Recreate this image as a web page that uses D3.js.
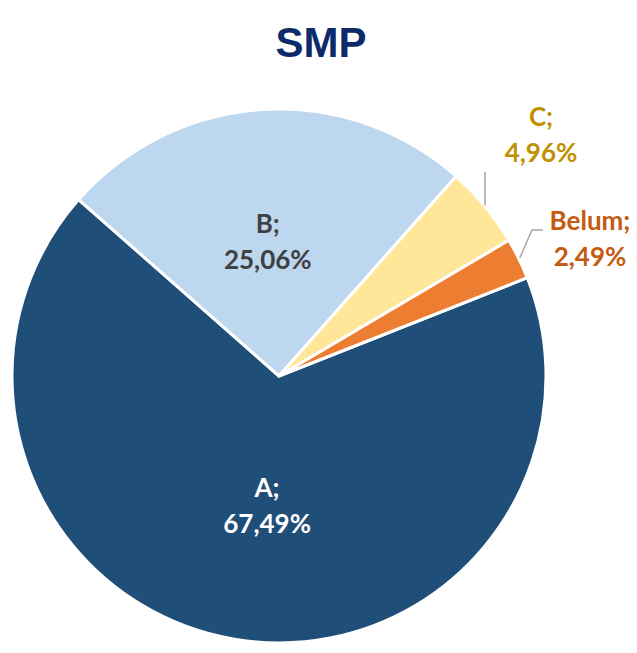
<!DOCTYPE html>
<html>
<head>
<meta charset="utf-8">
<script src="https://cdn.jsdelivr.net/npm/d3@7"></script>
<style>
  html, body { margin: 0; padding: 0; background: #ffffff; }
  svg { display: block; }
</style>
</head>
<body>
<svg id="chart" width="637" height="653"></svg>
<script>
const categories = ["A", "B", "C", "Belum"];
const values = [67.49, 25.06, 4.96, 2.49];
const labelTexts = ["67,49%", "25,06%", "4,96%", "2,49%"];
const colors = ["#1F4E79", "#BDD7EE", "#FFE699", "#ED7D31"];
const labelColors = ["#ffffff", "#404040", "#BF9000", "#C55A11"];
const title = "SMP";

const svg = d3.select("#chart");
const cx = 279, cy = 376, R = 267;

svg.append("text")
  .attr("x", 321).attr("y", 57)
  .attr("text-anchor", "middle")
  .attr("font-family", "Liberation Sans, Arial, sans-serif")
  .attr("font-weight", "bold")
  .attr("font-size", 42)
  .attr("fill", "#0D2B6B")
  .text(title);

const startDeg = 68.4;
const pie = d3.pie().sort(null)
  .startAngle(startDeg * Math.PI / 180)
  .endAngle(startDeg * Math.PI / 180 + 2 * Math.PI);
const arcs = pie(values);
const arc = d3.arc().innerRadius(0).outerRadius(R);

const g = svg.append("g").attr("transform", `translate(${cx},${cy})`);
g.selectAll("path").data(arcs).enter().append("path")
  .attr("d", arc)
  .attr("fill", (d, i) => colors[i])
  .attr("stroke", "#ffffff")
  .attr("stroke-width", 3)
  .attr("stroke-linejoin", "round");

// label layout: inside labels at centroid (with small nudges), outside ones at given positions
const insideNudge = { 0: [11, 1], 1: [-3, 2] };
const outside = {
  2: { x: 262, y: -238, anchor: [485 - cx, 172 - cy], elbow: null },
  3: { x: 311, y: -134, anchor: [543 - cx, 230 - cy], elbow: [532 - cx, 230 - cy] }
};

const fontFam = "Lato, 'Open Sans', sans-serif";
arcs.forEach((d, i) => {
  let x, y;
  if (outside[i]) {
    const o = outside[i];
    x = o.x; y = o.y;
    const mid = (d.startAngle + d.endAngle) / 2;
    const px = Math.sin(mid) * (R + 1), py = -Math.cos(mid) * (R + 1);
    const pts = o.elbow ? [[px, py], o.elbow, o.anchor] : [[o.anchor[0], py], o.anchor];
    g.append("path")
      .attr("d", d3.line()(pts))
      .attr("fill", "none")
      .attr("stroke", "#A6A6A6")
      .attr("stroke-width", 1.5);
  } else {
    const c = arc.centroid(d);
    const n = insideNudge[i] || [0, 0];
    x = c[0] + n[0]; y = c[1] + n[1];
  }
  const t = g.append("text")
    .attr("text-anchor", "middle")
    .attr("font-family", fontFam)
    .attr("font-weight", "bold")
    .attr("font-size", 26)
    .attr("fill", labelColors[i]);
  t.append("tspan").attr("x", x).attr("y", y - 12).text(categories[i] + ";");
  t.append("tspan").attr("x", x).attr("y", y + 24).text(labelTexts[i]);
});
</script>
</body>
</html>
